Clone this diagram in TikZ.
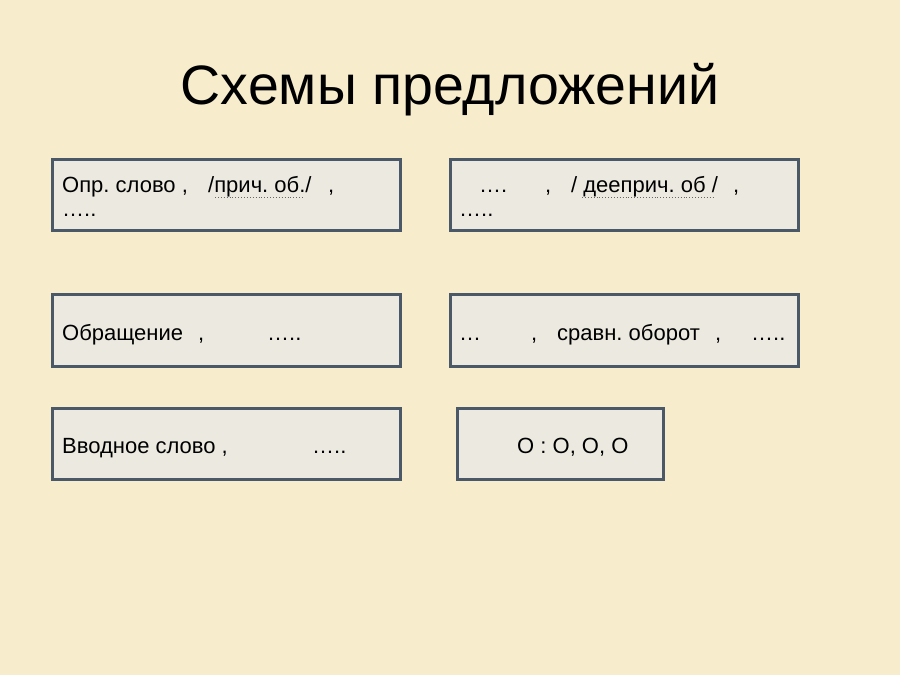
\documentclass[tikz,border=0pt]{standalone}
\usepackage{fontspec}
\setmainfont{Liberation Sans}
\frenchspacing
\definecolor{paper}{RGB}{247,236,204}
\definecolor{boxfill}{RGB}{236,234,224}
\definecolor{boxline}{RGB}{74,88,104}

\begin{document}
\begin{tikzpicture}[x=1pt,y=-1pt]
  \tikzset{
    scheme/.style={draw=boxline, line width=3pt, fill=boxfill, inner sep=0pt},
    word/.style={anchor=base west, inner sep=0pt, font=\fontsize{22}{26}\selectfont},
    ul/.style={dotted, black!60, line width=0.9pt}
  }
  \fill [paper] (0,0) rectangle (900,675);
  \useasboundingbox (0,0) rectangle (900,675);

  \node [anchor=base, inner sep=0pt, font=\fontsize{55.5}{62}\selectfont] (title) at (450,104) {Схемы предложений};

  % frames
  \node [scheme, minimum width=348, minimum height=71] (s1) at (226,194.5) {};
  \node [scheme, minimum width=348, minimum height=71] (s2) at (624,194.5) {};
  \node [scheme, minimum width=348, minimum height=72] (s3) at (226,330) {};
  \node [scheme, minimum width=348, minimum height=72] (s4) at (624,330) {};
  \node [scheme, minimum width=348, minimum height=71] (s5) at (226,443.5) {};
  \node [scheme, minimum width=206, minimum height=71] (s6) at (560,443.5) {};

  % first frame
  \node [word] (opr) at (62,192) {Опр. слово ,};
  \node [word] (pr) at (208,192) {/прич. об./};
  \node [word] (c1) at (328,192) {,};
  \node [word] (d1) at (62,216) {…..};
  \draw [ul] (215,197) -- (303,197);

  % second frame
  \node [word] (d2) at (479,192) {….};
  \node [word] (c2) at (545,192) {,};
  \node [word] (dp) at (571,192) {/ дееприч. об /};
  \node [word] (c3) at (733,192) {,};
  \node [word] (d3) at (459,216) {…..};
  \draw [ul] (582,197) -- (713,197);

  % third frame
  \node [word] (obr) at (62,340) {Обращение};
  \node [word] (c4) at (198,340) {,};
  \node [word] (d4) at (267,340) {…..};

  % fourth frame
  \node [word] (d5) at (459,340) {…};
  \node [word] (c5) at (531,340) {,};
  \node [word] (sr) at (557,340) {сравн. оборот};
  \node [word] (c6) at (715,340) {,};
  \node [word] (d6) at (751,340) {…..};

  % fifth frame
  \node [word] (vv) at (62,453) {Вводное слово ,};
  \node [word] (d7) at (312,453) {…..};

  % sixth frame
  \node [word] (oo) at (517,453) {O : O, O, O};
\end{tikzpicture}
\end{document}
